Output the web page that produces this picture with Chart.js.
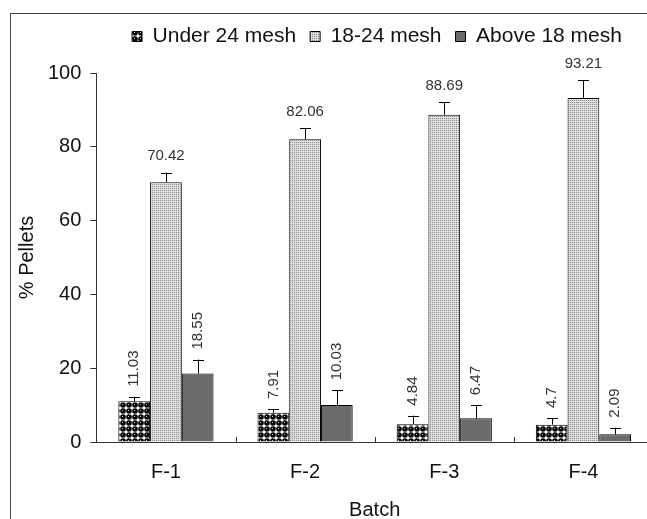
<!DOCTYPE html>
<html>
<head>
<meta charset="utf-8">
<script src="https://cdn.jsdelivr.net/npm/chart.js@4.4.0/dist/chart.umd.min.js"></script>
<style>
html,body{margin:0;padding:0;overflow:hidden;background:#fff;}
#wrap{position:relative;width:660px;height:519px;overflow:hidden;}
#frame{position:absolute;left:10px;top:13px;width:700px;height:600px;border:1px solid #444;box-sizing:border-box;pointer-events:none;}
</style>
</head>
<body>
<div id="wrap"><canvas id="c" width="660" height="522"></canvas><div id="frame"></div></div>
<script>
const categories=['F-1','F-2','F-3','F-4'];
const under24=[11.03,7.91,4.84,4.7];
const mesh1824=[70.42,82.06,88.69,93.21];
const above18=[18.55,10.03,6.47,2.09];
const under24Err=[1.2,1.0,2.3,1.8];
const mesh1824Err=[2.6,3.0,3.4,4.9];
const above18Err=[3.8,4.0,3.5,1.8];
const yTicks=[0,20,40,60,80,100];

const makePattern=(w,h,draw)=>{
    const c=document.createElement('canvas');
    c.width=w;c.height=h;
    const g=c.getContext('2d');
    draw(g);
    return document.getElementById('c').getContext('2d').createPattern(c,'repeat');
};
// black balls
const ballPattern=makePattern(6,6,g=>{
    g.fillStyle='#fff';g.fillRect(0,0,6,6);
    g.fillStyle='#000';g.beginPath();g.arc(3,3,2.8,0,Math.PI*2);g.fill();
    g.fillStyle='#ccc';g.fillRect(2,2,1,1);
});
// fine grey dots
const dotPattern=makePattern(2,2,g=>{
    g.fillStyle='#dedede';g.fillRect(0,0,2,2);
    g.fillStyle='#8c8c8c';g.fillRect(0,0,1,1);
});

const errs=[under24Err,mesh1824Err,above18Err];
const rotated=[true,false,true];

const extras={
    id:'extras',
    beforeInit:(chart)=>{
        // extra room under the legend
        const fit=chart.legend.fit;
        chart.legend.fit=function(){fit.call(this);this.height+=16;};
    },
    afterLayout:(chart)=>{
        chart.legend.left+=43;chart.legend.right+=43;
    },
    afterDatasetsDraw:(chart)=>{
        const ctx=chart.ctx;
        const ys=chart.scales.y, xs=chart.scales.x;
        ctx.save();
        // inside tick marks between categories
        ctx.strokeStyle='#333';ctx.lineWidth=1;
        for(let i=1;i<categories.length;i++){
            const x=Math.round((xs.getPixelForValue(i-1)+xs.getPixelForValue(i))/2)+0.5;
            ctx.beginPath();ctx.moveTo(x,ys.bottom);ctx.lineTo(x,ys.bottom-5);ctx.stroke();
        }
        chart.data.datasets.forEach((ds,di)=>{
            const meta=chart.getDatasetMeta(di);
            meta.data.forEach((el,i)=>{
                const v=ds.data[i];
                const x=Math.round(el.x)+0.5;
                const cap=ys.getPixelForValue(v+errs[di][i]);
                ctx.strokeStyle='#000';ctx.lineWidth=1;
                ctx.beginPath();
                ctx.moveTo(x,el.y);ctx.lineTo(x,cap);
                ctx.moveTo(x-5.5,Math.round(cap)+0.5);ctx.lineTo(x+5.5,Math.round(cap)+0.5);
                ctx.stroke();
                ctx.fillStyle='#333';
                ctx.font='15px "Liberation Sans", Arial, sans-serif';
                if(rotated[di]){
                    ctx.save();
                    ctx.translate(el.x,cap-10);
                    ctx.rotate(-Math.PI/2);
                    ctx.textAlign='left';ctx.textBaseline='middle';
                    ctx.fillText(String(v),0,0);
                    ctx.restore();
                }else{
                    ctx.textAlign='center';ctx.textBaseline='bottom';
                    ctx.fillText(String(v),el.x,cap-9);
                }
            });
        });
        ctx.restore();
    },
    beforeDraw:(chart)=>{
        const ctx=chart.ctx;
        ctx.save();ctx.fillStyle='#fff';ctx.fillRect(0,0,chart.width,chart.height);ctx.restore();
    }
};

const font={family:'"Liberation Sans", Arial, sans-serif',size:20};

new Chart(document.getElementById('c'),{
    type:'bar',
    data:{
        labels:categories,
        datasets:[
            {label:'Under 24 mesh',data:under24,backgroundColor:ballPattern,borderColor:'#000',borderWidth:1},
            {label:'18-24 mesh',data:mesh1824,backgroundColor:dotPattern,borderColor:'#000',borderWidth:1},
            {label:'Above 18 mesh',data:above18,backgroundColor:'#6b6b6b',borderColor:'#000',borderWidth:1}
        ]
    },
    options:{
        responsive:false,
        animation:false,
        devicePixelRatio:1,
        categoryPercentage:0.684,
        barPercentage:1.0,
        layout:{padding:{left:15,right:7,top:12,bottom:0}},
        plugins:{
            legend:{
                position:'top',
                labels:{font:{family:font.family,size:21},color:'#111',boxWidth:10,boxHeight:10,padding:14}
            },
            tooltip:{enabled:false}
        },
        scales:{
            x:{
                offset:true,
                grid:{display:true,drawOnChartArea:false,drawTicks:false},
                border:{display:true,color:'#333',width:1},
                ticks:{font:font,color:'#111',padding:18},
                title:{display:true,text:'Batch',font:font,color:'#111',padding:{top:-4,bottom:0}}
            },
            y:{
                min:0,max:100,
                afterBuildTicks:(s)=>{s.ticks=yTicks.map(v=>({value:v}));},
                grid:{display:true,drawOnChartArea:false,drawTicks:true,tickLength:6,color:'#333'},
                border:{display:true,color:'#333',width:1},
                ticks:{font:font,color:'#111',padding:9},
                title:{display:true,text:'% Pellets',font:font,color:'#111',padding:{top:0,bottom:0}}
            }
        }
    },
    plugins:[extras]
});
</script>
</body>
</html>
